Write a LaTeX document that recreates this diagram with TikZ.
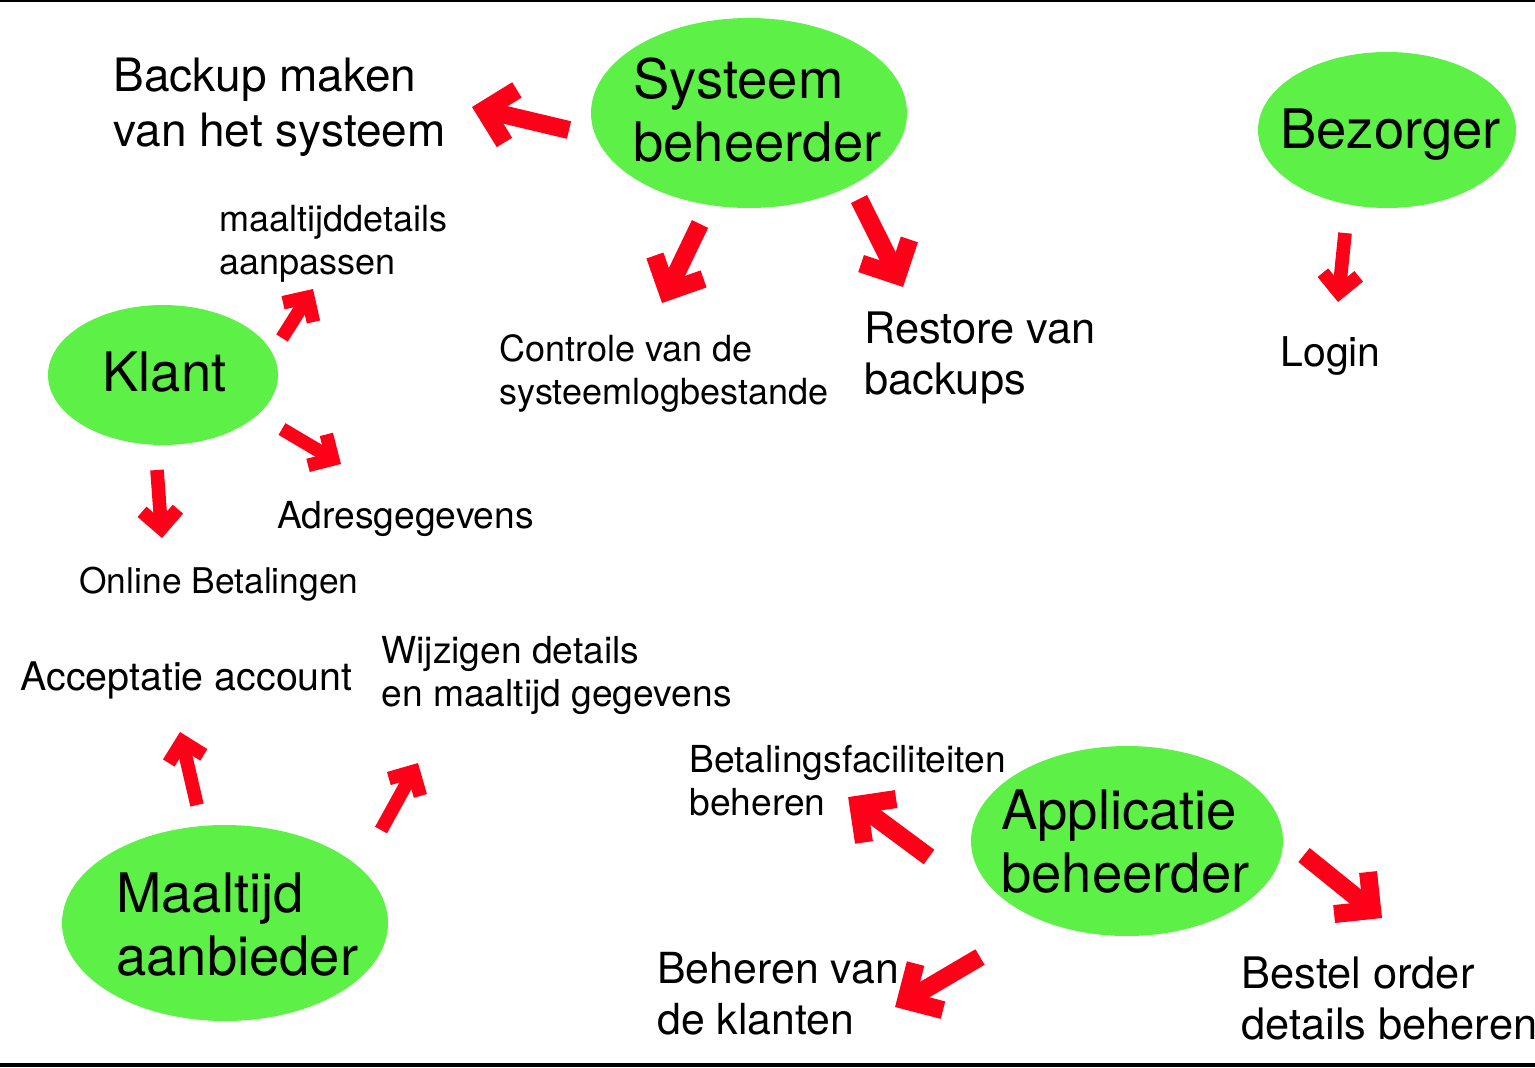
\documentclass[tikz,border=0pt]{standalone}
\usepackage{fontspec}
\setmainfont{TeX Gyre Heros}
\usetikzlibrary{shapes.geometric,decorations.markings}
\definecolor{actorgreen}{RGB}{93,240,70}
\definecolor{arrowred}{RGB}{255,0,25}

\begin{document}
\begin{tikzpicture}[x=0.5pt,y=-0.5pt,
          actor/.style={ellipse,fill=actorgreen,inner sep=0pt},
          actortext/.style={anchor=north west,align=left,inner sep=0pt,font=\fontsize{27.2}{31.5}\selectfont},
          usecase/.style={anchor=north west,align=left,inner sep=0pt,font=\fontsize{18.6}{21.5}\selectfont},
          biguse/.style={usecase,font=\fontsize{21.7}{25.5}\selectfont},
          blockarrow/.style 2 args={draw=arrowred,line width=#1,shorten >={0.707*#1},
            postaction={decorate},
            decoration={markings,mark=at position 1 with {\draw[arrowred,line width=#1,line join=miter,shorten >=0pt,shorten <=0pt]
              ({-0.707*#1-#2},{#2}) -- ({-0.707*#1},0pt) -- ({-0.707*#1-#2},{-#2});}}},
          bigarrow/.style={blockarrow={9pt}{13.5pt}},
          smallarrow/.style={blockarrow={6.8pt}{9pt}}]
          \useasboundingbox (0,0) rectangle (1535,1067);
          \draw[line width=1pt] (0,1) -- (1535,1);
          \draw[line width=2pt] (0,1065) -- (1535,1065);

          \node[actor,minimum width=158pt,minimum height=95pt] (Sys) at (749,113) {};
          \node[actor,minimum width=129pt,minimum height=78pt] (Bez) at (1387,130) {};
          \node[actor,minimum width=115pt,minimum height=70pt] (Kla) at (163,375) {};
          \node[actor,minimum width=163pt,minimum height=98pt] (Maa) at (225,923) {};
          \node[actor,minimum width=156pt,minimum height=95pt] (App) at (1127,841) {};

          \node[actortext] (SysTxt) at (633,57) {Systeem\\beheerder};
          \node[actortext] (BezTxt) at (1280,108) {Bezorger};
          \node[actortext] (KlaTxt) at (102,351) {Klant};
          \node[actortext] (MaaTxt) at (116,872) {Maaltijd\\aanbieder};
          \node[actortext] (AppTxt) at (1001,789) {Applicatie\\beheerder};

          \node[usecase,font=\fontsize{23}{27.5}\selectfont] (Backup) at (113,58) {Backup maken\\van het systeem};
          \node[usecase,font=\fontsize{18}{21.5}\selectfont] (Details) at (219,205) {maaltijddetails\\aanpassen};
          \node[usecase,font=\fontsize{18}{21.5}\selectfont] (Controle) at (499,334) {Controle van de\\systeemlogbestande};
          \node[biguse] (Restore) at (864,311) {Restore van\\backups};
          \node[biguse,font=\fontsize{20.5}{25.5}\selectfont] (Login) at (1280,336) {Login};
          \node[usecase] (Adres) at (277,501) {Adresgegevens};
          \node[usecase,font=\fontsize{17.7}{21.5}\selectfont] (Online) at (79,567) {Online Betalingen};
          \node[usecase,font=\fontsize{19.7}{21.5}\selectfont] (Accept) at (20,661) {Acceptatie account};
          \node[usecase] (Wijzig) at (381,636) {Wijzigen details\\en maaltijd gegevens};
          \node[usecase] (Betaal) at (689,745) {Betalingsfaciliteiten\\beheren};
          \node[biguse,font=\fontsize{21.4}{25.5}\selectfont] (Klanten) at (657,952) {Beheren van\\de klanten};
          \node[biguse] (Bestel) at (1241,956) {Bestel order\\details beheren};

          \coordinate (SysB1) at (569,130);  \coordinate (SysB2) at (472,107);
          \coordinate (SysC1) at (700,224);  \coordinate (SysC2) at (662,303);
          \coordinate (SysR1) at (859,199);  \coordinate (SysR2) at (903,287);
          \coordinate (BezL1) at (1345,233); \coordinate (BezL2) at (1338,302);
          \coordinate (KlaD1) at (282,338);  \coordinate (KlaD2) at (313,289);
          \coordinate (KlaA1) at (282,429);  \coordinate (KlaA2) at (341,464);
          \coordinate (KlaO1) at (157,470);  \coordinate (KlaO2) at (162,538);
          \coordinate (MaaA1) at (197,805);  \coordinate (MaaA2) at (180,732);
          \coordinate (MaaW1) at (381,830);  \coordinate (MaaW2) at (418,763);
          \coordinate (AppB1) at (929,857);  \coordinate (AppB2) at (848,797);
          \coordinate (AppK1) at (980,957);  \coordinate (AppK2) at (895,1007);
          \coordinate (AppO1) at (1304,855); \coordinate (AppO2) at (1382,918);

          \draw[bigarrow] (SysB1) -- (SysB2);
          \draw[bigarrow] (SysC1) -- (SysC2);
          \draw[bigarrow] (SysR1) -- (SysR2);
          \draw[smallarrow] (BezL1) -- (BezL2);
          \draw[smallarrow] (KlaD1) -- (KlaD2);
          \draw[smallarrow] (KlaA1) -- (KlaA2);
          \draw[smallarrow] (KlaO1) -- (KlaO2);
          \draw[smallarrow] (MaaA1) -- (MaaA2);
          \draw[smallarrow] (MaaW1) -- (MaaW2);
          \draw[bigarrow] (AppB1) -- (AppB2);
          \draw[bigarrow] (AppK1) -- (AppK2);
          \draw[bigarrow] (AppO1) -- (AppO2);
\end{tikzpicture}
\end{document}
